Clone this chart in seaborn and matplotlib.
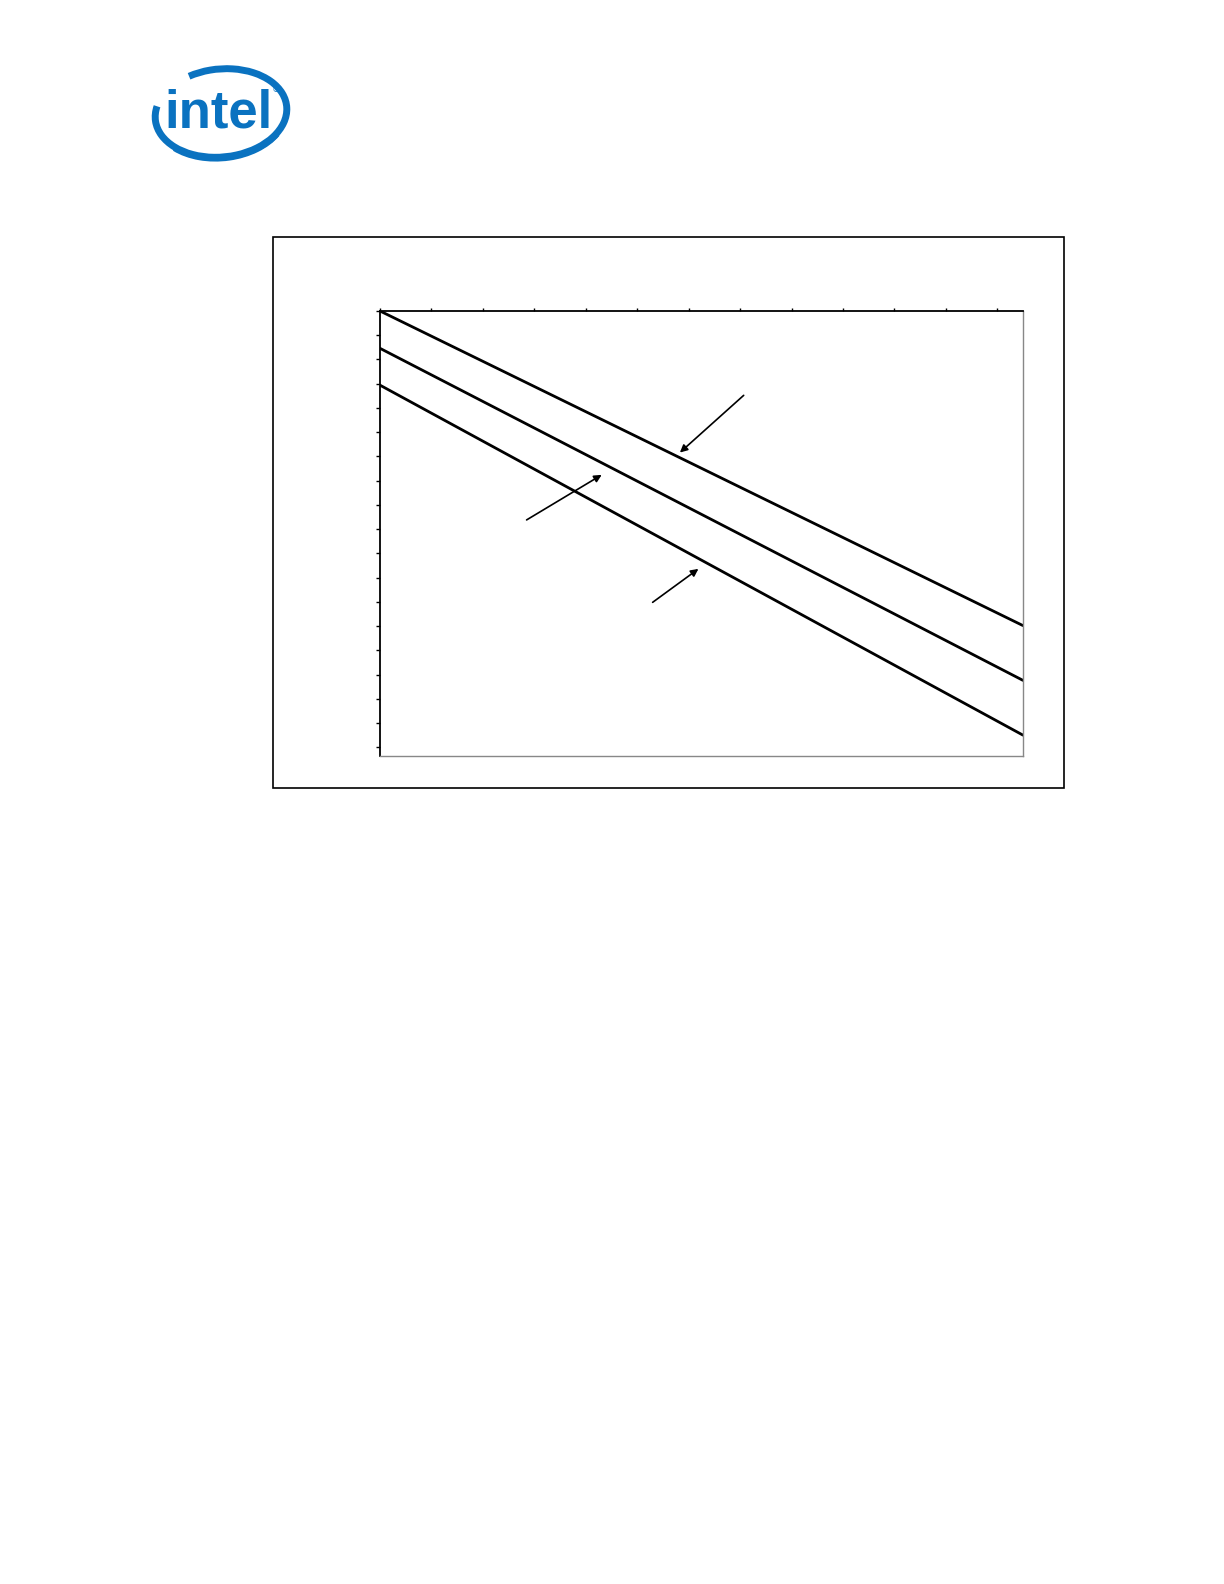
import numpy as np
import pandas as pd
import matplotlib
matplotlib.use('Agg')
import matplotlib.pyplot as plt
import matplotlib.patches as mpatches
import seaborn as sns

# three straight curves, two end points each (x: 0..125, y axis reversed)
x_vals = [0, 125]
curve_a = [0.0, 64.9]
curve_b = [7.7, 76.2]
curve_c = [15.3, 87.5]
curve_names = ['a', 'b', 'c']

x_ticks = list(range(0, 121, 10))
y_ticks = list(range(0, 91, 5))

df = pd.DataFrame({
    'x': x_vals * 3,
    'y': curve_a + curve_b + curve_c,
    'curve': [n for n in curve_names for _ in x_vals],
})

sns.set_style('white')

fig = plt.figure(figsize=(12.24, 15.84), dpi=100)

# outer frame around the chart
frame = mpatches.Rectangle((273 / 1224, 1 - 788 / 1584), (1064 - 273) / 1224, (788 - 237) / 1584,
                           transform=fig.transFigure, fill=False, edgecolor='black', lw=1.2)
fig.patches.append(frame)

ax = fig.add_axes([380 / 1224, 1 - 756 / 1584, (1023 - 380) / 1224, (756 - 311) / 1584])
sns.lineplot(data=df, x='x', y='y', hue='curve', palette=['black'] * 3,
             linewidth=2.0, legend=False, ax=ax)

ax.set_xlim(0, 125)
ax.set_ylim(91.8, 0)
ax.set_xticks(x_ticks)
ax.set_yticks(y_ticks)
ax.set_xticklabels([])
ax.set_yticklabels([])
ax.set_xlabel('')
ax.set_ylabel('')
ax.xaxis.tick_top()
ax.tick_params(axis='x', direction='out', length=2.5, width=1, colors='black', top=True, bottom=False)
ax.tick_params(axis='y', direction='out', length=3, width=1, colors='black', left=True)

for side in ['top', 'left']:
    ax.spines[side].set_color('black')
    ax.spines[side].set_linewidth(1.3)
for side in ['right', 'bottom']:
    ax.spines[side].set_color('#888888')
    ax.spines[side].set_linewidth(1.0)

# pointer arrows (labels were not shown in the source)
arrow_kw = dict(arrowstyle='-|>', color='black', lw=1.2, mutation_scale=11, shrinkA=0, shrinkB=0)
ax.annotate('', xy=(58.3, 29.2), xytext=(70.7, 17.4), arrowprops=arrow_kw)
ax.annotate('', xy=(43.1, 33.8), xytext=(28.5, 43.1), arrowprops=arrow_kw)
ax.annotate('', xy=(61.9, 53.2), xytext=(53.0, 60.1), arrowprops=arrow_kw)

# logo (y axis points down, so arc angles are mirrored)
logo = fig.add_axes([140 / 1224, 1 - 165 / 1584, 160 / 1224, 105 / 1584])
logo.set_xlim(140, 300)
logo.set_ylim(165, 60)
logo.axis('off')
blue = '#0a72c0'
logo.add_patch(mpatches.Arc((221, 113), 132, 88, angle=-6, theta1=235, theta2=192,
                            color=blue, lw=5))
logo.add_patch(mpatches.Arc((221, 114.5), 132, 88, angle=-6, theta1=25, theta2=150,
                            color=blue, lw=4))
logo.text(164, 128, 'intel', color=blue, fontsize=38, fontweight='bold',
          family=['Liberation Sans Narrow', 'Liberation Sans', 'DejaVu Sans'],
          ha='left', va='baseline')
logo.text(272, 90, '®', color=blue, fontsize=6, family='DejaVu Sans', ha='left', va='center')

fig.savefig('out.png', dpi=100)
